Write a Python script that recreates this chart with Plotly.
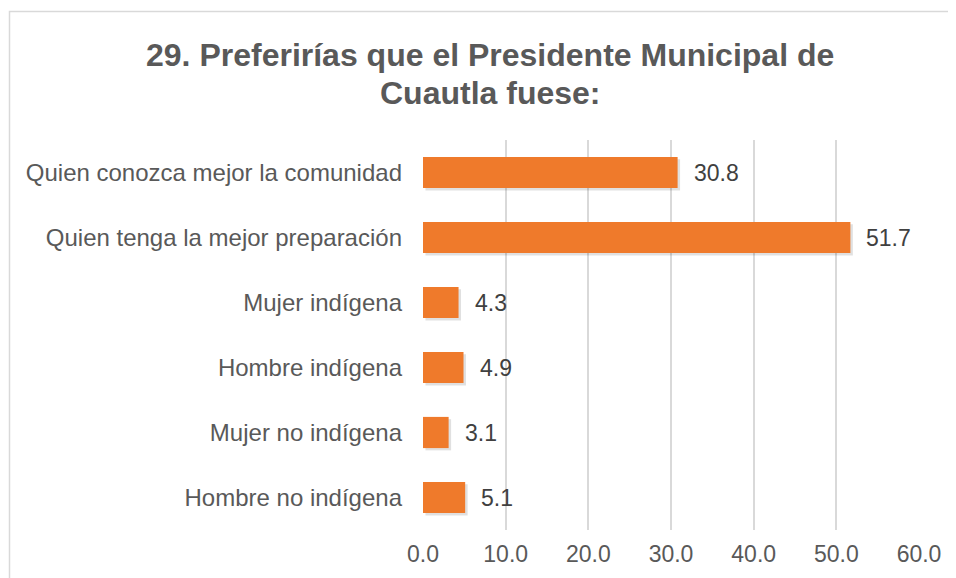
import plotly.graph_objects as go

categories = ["Quien conozca mejor la comunidad", "Quien tenga la mejor preparación",
              "Mujer indígena", "Hombre indígena", "Mujer no indígena", "Hombre no indígena"]
values = [30.8, 51.7, 4.3, 4.9, 3.1, 5.1]
labels = ["30.8", "51.7", "4.3", "4.9", "3.1", "5.1"]
x_ticks = [0, 10, 20, 30, 40, 50, 60]
x_tick_labels = ["0.0", "10.0", "20.0", "30.0", "40.0", "50.0", "60.0"]
title_lines = ["29. Preferirías que el Presidente Municipal de", "Cuautla fuese:"]

FONT = "Liberation Sans, Arial, sans-serif"
W, H = 956, 578
OFF = 8  # page body margin
L, R, T, B = 423 - OFF, 45, 140 - OFF, 56
pw, ph = W - L - R, H - T - B

fig = go.Figure()
# soft shadow
fig.add_trace(go.Bar(
    y=categories, x=values, base=0.3, orientation="h",
    width=0.48, offset=-0.205,
    marker=dict(color="rgba(0,0,0,0.12)", line=dict(width=0)),
    hoverinfo="skip", showlegend=False))
fig.add_trace(go.Bar(
    y=categories, x=values, orientation="h",
    width=0.48, offset=-0.24,
    marker=dict(color="#EF7A2B", line=dict(width=0)),
    showlegend=False))

for c, v, t in zip(categories, values, labels):
    fig.add_annotation(x=v, y=c, text=t, xanchor="left", yanchor="middle",
                       xshift=14, showarrow=False,
                       font=dict(family=FONT, size=23, color="#404040"))

for line, ypix in zip(title_lines, [55, 93]):
    fig.add_annotation(xref="paper", yref="paper",
                       x=(490 - OFF - L) / pw, y=(H - B - (ypix - OFF)) / ph,
                       text="<b>" + line + "</b>", showarrow=False,
                       xanchor="center", yanchor="middle",
                       font=dict(family=FONT, size=32, color="#595959"))

fig.add_shape(type="rect", xref="paper", yref="paper",
              x0=(9.5 - OFF - L) / pw, x1=(W + 20 - L) / pw,
              y0=(H - B - (H + 20)) / ph, y1=(H - B - (11.5 - OFF)) / ph,
              line=dict(color="#D9D9D9", width=1.5), layer="below")

fig.update_layout(
    width=W, height=H,
    margin=dict(l=L, r=R, t=T, b=B, pad=0),
    paper_bgcolor="white", plot_bgcolor="white",
    barmode="overlay",
    font=dict(family=FONT, size=23, color="#595959"),
    xaxis=dict(range=[0, 60], tickvals=x_ticks, ticktext=x_tick_labels,
               showgrid=True, gridcolor="#D9D9D9", gridwidth=1.5,
               zeroline=False, showline=False, ticks="", ticklabelstandoff=8,
               tickfont=dict(family=FONT, size=23, color="#595959"), fixedrange=True),
    yaxis=dict(categoryorder="array", categoryarray=categories, autorange="reversed",
               showgrid=False, zeroline=False, showline=False, ticks="",
               ticklabelstandoff=20,
               tickfont=dict(family=FONT, size=24, color="#595959")),
)

fig.write_html("out.html")
